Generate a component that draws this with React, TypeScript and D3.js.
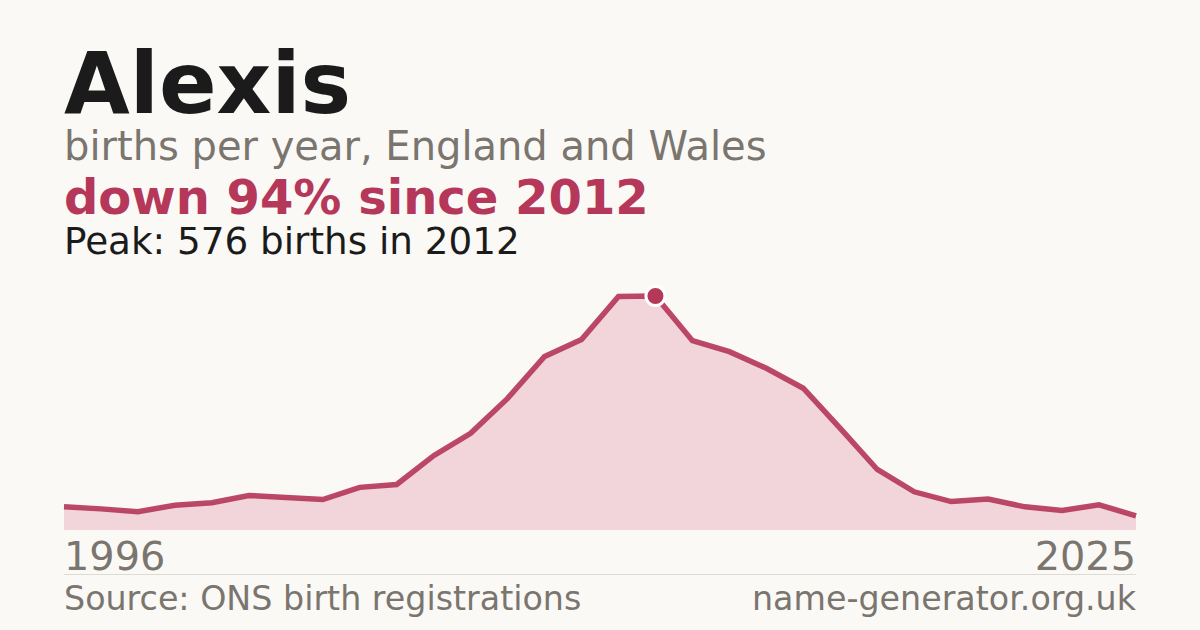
import * as d3 from 'd3';
import React, { useEffect } from 'react';

const years = [
  1996, 1997, 1998, 1999, 2000, 2001, 2002, 2003, 2004, 2005,
  2006, 2007, 2008, 2009, 2010, 2011, 2012, 2013, 2014, 2015,
  2016, 2017, 2018, 2019, 2020, 2021, 2022, 2023, 2024, 2025,
];
const births = [
  57, 52, 45, 61, 67, 85, 80, 75, 105, 112,
  183, 238, 324, 427, 469, 575, 576, 466, 439, 398,
  349, 250, 149, 94, 70, 76, 57, 48, 62, 35,
];
const peakYear = 2012;
const peakValue = 576;
const firstLabel = '1996';
const lastLabel = '2025';

const W = 1200;
const H = 630;
const left = 64;
const right = 1136;
const baseY = 530;
const topY = 296;

const accent = '#b5385a';
const grey = '#7a756e';
const font = 'DejaVu Sans, sans-serif';

export default function App() {
  useEffect(() => {
    document.body.style.margin = '0';
  }, []);

  const x = d3.scaleLinear().domain([years[0], years[years.length - 1]]).range([left, right]);
  const y = d3.scaleLinear().domain([0, peakValue]).range([baseY, topY]);

  const pts = years.map((yr, i) => ({ yr, v: births[i] }));
  const area = d3.area<{ yr: number; v: number }>()
    .x(d => x(d.yr))
    .y0(baseY)
    .y1(d => y(d.v))(pts) || '';
  const line = d3.line<{ yr: number; v: number }>()
    .x(d => x(d.yr))
    .y(d => y(d.v))(pts) || '';

  const peakIdx = years.indexOf(peakYear);

  return (
    <svg width={W} height={H} style={{ display: 'block' }} fontFamily={font}>
      <rect width={W} height={H} fill="#faf9f5" />

      <text x={left} y={113} fontSize={85} fontWeight="bold" fill="#1b1b1b">Alexis</text>
      <text x={left} y={160} fontSize={40} fill={grey}>births per year, England and Wales</text>
      <text x={left} y={214} fontSize={48} fontWeight="bold" fill={accent}>down 94% since 2012</text>
      <text x={left} y={254} fontSize={37.3} fill="#1b1b1b">Peak: {peakValue} births in {peakYear}</text>

      <path d={area} fill="#f1d5db" />
      <path d={line} fill="none" stroke={accent} strokeWidth={5.5} strokeLinejoin="miter" strokeOpacity={0.92} />
      <circle cx={x(years[peakIdx])} cy={y(births[peakIdx])} r={9.5} fill={accent} stroke="#ffffff" strokeWidth={3} />

      <text x={left} y={570} fontSize={39.8} fill={grey}>{firstLabel}</text>
      <text x={right} y={570} fontSize={39.8} fill={grey} textAnchor="end">{lastLabel}</text>
      <line x1={left} x2={right} y1={574.5} y2={574.5} stroke="#dedbd5" strokeWidth={1} />

      <text x={left} y={610} fontSize={33.3} fill={grey}>Source: ONS birth registrations</text>
      <text x={right} y={610} fontSize={33.3} fill={grey} textAnchor="end">name-generator.org.uk</text>
    </svg>
  );
}
